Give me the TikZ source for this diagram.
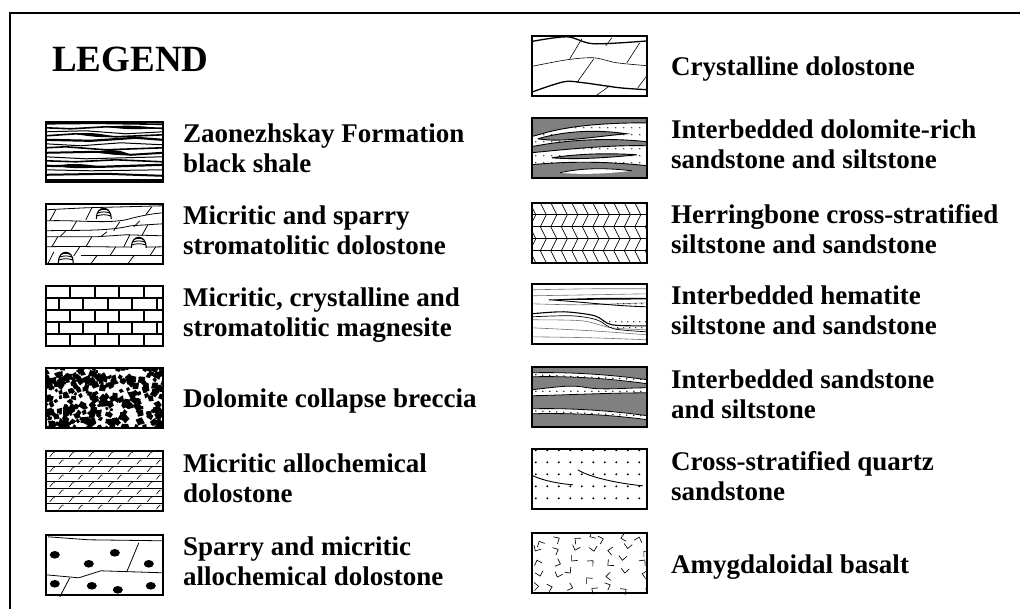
\documentclass[tikz,border=0pt]{standalone}
\usepackage{fontspec}
\setmainfont{Liberation Serif}
\newcommand\stromdome[2]{%
  \fill[white] (#1-7.5,#2) .. controls (#1-7.5,#2-14) and (#1+7.5,#2-14) .. (#1+7.5,#2) -- cycle;
  \draw[line width=1.1pt] (#1-7.5,#2) .. controls (#1-7.5,#2-14) and (#1+7.5,#2-14) .. (#1+7.5,#2);
  \draw[line width=0.9pt] (#1-7.2,#2-2.8) .. controls (#1-2,#2-4.5) and (#1+2,#2-4.5) .. (#1+7.2,#2-2.8);
  \draw[line width=0.9pt] (#1-6.5,#2-5.6) .. controls (#1-2,#2-7.3) and (#1+2,#2-7.3) .. (#1+6.5,#2-5.6);
  \draw[line width=0.9pt] (#1-5,#2-8.4) .. controls (#1-1.5,#2-9.8) and (#1+1.5,#2-9.8) .. (#1+5,#2-8.4);
}
\begin{document}
\begin{tikzpicture}[x=1pt,y=-1pt,
  swatchL/.style={draw, line width=1.2pt, minimum width=117pt, minimum height=60pt, inner sep=0pt, outer sep=0pt},
  swatchR/.style={draw, line width=1.2pt, minimum width=115pt, minimum height=60pt, inner sep=0pt, outer sep=0pt},
  holdL/.style={minimum width=117pt, minimum height=60pt, inner sep=0pt},
  holdR/.style={minimum width=115pt, minimum height=60pt, inner sep=0pt},
  lab/.style={anchor=base west, align=left, font=\fontsize{27}{30}\selectfont\bfseries, inner sep=0pt},
  thin/.style={line width=0.6pt}]
\useasboundingbox (0,0) rectangle (1020,609);
\fill[white] (0,0) rectangle (1020,609);
% frame
\draw[line width=1.6pt] (10,612) -- (10,13) -- (1022,13);
\node[anchor=base west, inner sep=0pt, font=\fontsize{37}{40}\selectfont\bfseries] (title) at (52,72) {LEGEND};

% ---------- swatch placeholders
\path (104.5,152) node[holdL] (a1) {};
\path (104.5,234) node[holdL] (a2) {};
\path (104.5,316) node[holdL] (a3) {};
\path (104.5,398) node[holdL] (a4) {};
\path (104.5,481) node[holdL] (a5) {};
\path (104.5,565) node[holdL] (a6) {};
\path (589.5,66) node[holdR] (b1) {};
\path (589.5,148) node[holdR] (b2) {};
\path (589.5,233) node[holdR] (b3) {};
\path (589.5,314) node[holdR] (b4) {};
\path (589.5,397) node[holdR] (b5) {};
\path (589.5,479) node[holdR] (b6) {};
\path (589.5,563) node[holdR] (b7) {};

% ---------- 1 black shale
\begin{scope}[shift={(a1.north west)}, line join=round]
\clip (0,0) rectangle (117,60);
\draw[line width=1.6pt] (0,2) -- (50,1.5) -- (117,2.5);
\draw[line width=1.6pt] (0,6) -- (25,7) -- (60,5) -- (117,6.5);
\draw[line width=1pt] (0,10) -- (40,9) -- (80,12) -- (117,10);
\draw[line width=1.6pt] (0,14) -- (30,12) -- (70,15) -- (117,13);
\draw[line width=2.2pt] (0,18) -- (45,19) -- (90,16) -- (117,18);
\draw[line width=1pt] (0,22) -- (35,24) -- (75,21) -- (117,23);
\draw[line width=1.6pt] (0,26) -- (20,25) -- (60,28) -- (117,26);
\draw[line width=2pt] (0,31) -- (50,30) -- (85,33) -- (117,31);
\draw[line width=1pt] (0,35) -- (40,37) -- (117,35);
\draw[line width=1.6pt] (0,39) -- (30,40) -- (70,38) -- (117,40);
\draw[line width=2.2pt] (0,44) -- (55,45) -- (117,43);
\draw[line width=1pt] (0,48) -- (45,49) -- (117,48);
\draw[line width=2pt] (0,53) -- (60,52) -- (117,54);
\draw[line width=2.5pt] (0,58) -- (117,58);
\fill (50,30) .. controls (65,27) and (75,28) .. (85,33) .. controls (70,34) and (60,32) .. (50,30);
\fill (10,44) .. controls (25,41) and (40,42) .. (55,45) .. controls (40,47) and (25,47) .. (10,44);
\fill (60,5) .. controls (80,3) and (95,4) .. (110,6) .. controls (95,8) and (80,8) .. (60,5);
\fill (30,12) .. controls (45,10) and (55,12) .. (70,15) .. controls (55,16) and (45,15) .. (30,12);
\end{scope}

% ---------- 2 stromatolitic dolostone
\begin{scope}[shift={(a2.north west)}, line width=0.8pt]
\clip (0,0) rectangle (117,60);
\draw (0,6) -- (40,4) -- (117,2);
\draw (0,17) .. controls (30,16) and (60,20) .. (80,16) .. controls (95,12) and (105,10) .. (117,9);
\draw (0,27) .. controls (30,26) and (60,28) .. (85,22) -- (117,20);
\draw (0,33) -- (50,33) -- (80,31) -- (117,32);
\draw (0,43) .. controls (40,42) and (70,44) .. (117,43);
\draw (35,52) -- (117,52);
\foreach \x/\ya/\yb in {4/6/17, 40/4/16, 100/3/11, 25/17/27, 68/18/27, 88/17/23, 14/27/33, 55/28/33, 96/21/32, 6/33/43, 40/33/43, 78/31/43, 28/43/52, 64/43/52, 104/43/52, 2/48/60, 45/52/60, 82/52/60}
  \draw (\x,\yb) -- (\x+6,\ya);
\stromdome{58}{15}
\stromdome{93}{44}
\stromdome{20}{59}
\end{scope}

% ---------- 3 magnesite bricks
\begin{scope}[shift={(a3.north west)}, line width=2.2pt]
\clip (0,0) rectangle (117,60);
\foreach \k in {1,...,4} \draw (0,\k*12) -- (117,\k*12);
\foreach \r in {0,2,4} \foreach \x in {24.5,49,73.5,98} \draw (\x,{\r*12}) -- (\x,{\r*12+12});
\foreach \r in {1,3} \foreach \x in {13,37.5,62,86.5,111} \draw (\x,{\r*12}) -- (\x,{\r*12+12});
\end{scope}

% ---------- 4 breccia
\begin{scope}[shift={(a4.north west)}]
\clip (0,0) rectangle (117,60);
\pgfmathsetseed{11}
\foreach \i in {1,...,300}{
  \pgfmathsetmacro\cx{rnd*121-2}
  \pgfmathsetmacro\cy{rnd*64-2}
  \pgfmathsetmacro\rr{2+rnd*3.2}
  \pgfmathsetmacro\aa{rnd*360}
  \pgfmathsetmacro\bb{70+rnd*50}
  \fill ({\cx+\rr*cos(\aa)},{\cy+\rr*sin(\aa)}) -- ({\cx+0.8*\rr*cos(\aa+\bb)},{\cy+0.8*\rr*sin(\aa+\bb)}) -- ({\cx+\rr*cos(\aa+190)},{\cy+\rr*sin(\aa+190)}) -- ({\cx+0.9*\rr*cos(\aa+280)},{\cy+0.9*\rr*sin(\aa+280)}) -- cycle;
}
\end{scope}

% ---------- 5 micritic allochemical dolostone
\begin{scope}[shift={(a5.north west)}, line width=0.6pt]
\clip (0,0) rectangle (117,60);
\foreach \k in {1,...,7} \draw (0,\k*7.5) -- (117,\k*7.5);
\foreach \k in {0,...,7} \foreach \m in {0,...,5} {
  \pgfmathsetmacro\tx{4+mod(\k,2)*9+\m*19.5}
  \draw (\tx,{\k*7.5+6}) -- ({\tx+3.5},{\k*7.5+1.8}) -- ({\tx+5},{\k*7.5+1.8});
}
\end{scope}

% ---------- 6 sparry micritic allochemical dolostone
\begin{scope}[shift={(a6.north west)}, line width=0.8pt]
\clip (0,0) rectangle (117,62);
\draw (2,2) -- (43,5) -- (117,6);
\draw (0,40) -- (33,43) -- (55,36) -- (117,38);
\draw (93,8) -- (81,37);
\draw (24,43) -- (14,62);
\foreach \x/\y in {9/20, 43/29, 69/18, 103/29, 9/49, 46/51, 72/55, 105/51}
  \fill (\x,\y) ellipse [x radius=5pt, y radius=3.8pt];
\end{scope}

% ---------- 7 crystalline dolostone
\begin{scope}[shift={(b1.north west)}]
\clip (0,0) rectangle (115,60);
\draw[line width=1.3pt] plot[smooth] coordinates {(-2,6) (35,1) (62,8) (117,5)};
\draw[thin] plot[smooth] coordinates {(-2,31) (35,24) (62,22) (85,27) (117,30)};
\draw[line width=1.3pt] plot[smooth] coordinates {(-2,57) (32,46) (52,47) (88,52) (117,54)};
\draw[thin] (50,3) -- (38,23);
\draw[thin] (80,2) -- (74,10);
\draw[thin] (108,7) -- (95,27);
\draw[thin] (62,23) -- (45,47);
\draw[thin] (78,50) -- (64,60);
\draw[thin] (115,40) -- (106,52);
\end{scope}

% ---------- 8 dolomite-rich sandstone/siltstone
\begin{scope}[shift={(b2.north west)}]
\clip (0,0) rectangle (115,60);
\foreach \yy in {3,10,...,59} \foreach \xx in {4,12,...,116} \fill (\xx,\yy) circle (0.7pt);
\begin{scope}[fill=black!50, draw=black, line width=0.9pt]
\filldraw (-1,-1) -- (116,-1) -- (116,5) .. controls (80,5) and (40,7) .. (10,16) -- (-1,19) -- cycle;
\filldraw (6,21) .. controls (30,14) and (60,11) .. (95,16) .. controls (60,19) and (30,25) .. (6,21);
\filldraw (-1,29) .. controls (30,23) and (70,19) .. (116,24) -- (116,28) .. controls (80,27) and (40,31) .. (-1,35) -- cycle;
\filldraw (20,40) .. controls (45,36) and (75,35) .. (105,37) .. controls (75,40) and (45,42) .. (20,40);
\filldraw (-1,47) .. controls (40,43) and (80,44) .. (116,48) -- (116,61) -- (-1,61) -- cycle;
\end{scope}
\fill[white] (28,55) .. controls (50,50) and (75,50) .. (100,53) .. controls (75,56) and (50,57) .. (28,55);
\draw[line width=0.8pt] (28,55) .. controls (50,50) and (75,50) .. (100,53);
\end{scope}

% ---------- 9 herringbone
\begin{scope}[shift={(b3.north west)}, line width=0.7pt]
\clip (0,0) rectangle (115,60);
\foreach \k in {1,...,4} \draw (0,\k*12) -- (115,\k*12);
\foreach \k in {0,2,4} \foreach \m in {0,...,11} \draw ({\m*10.5-2},{\k*12}) -- ({\m*10.5+4},{\k*12+12});
\foreach \k in {1,3} \foreach \m in {0,...,11} \draw ({\m*10.5+4},{\k*12}) -- ({\m*10.5-2},{\k*12+12});
\end{scope}

% ---------- 10 hematite siltstone/sandstone
\begin{scope}[shift={(b4.north west)}]
\clip (0,0) rectangle (115,60);
\begin{scope}[draw=black!55, line width=0.6pt]
\draw plot[smooth] coordinates {(0,6) (60,5) (115,5)};
\draw plot[smooth] coordinates {(0,12) (60,11) (115,10)};
\draw plot[smooth] coordinates {(0,20) (50,21) (115,19)};
\draw plot[smooth] coordinates {(0,36) (50,37) (80,44) (115,46)};
\draw plot[smooth] coordinates {(0,44) (60,47) (115,51)};
\draw plot[smooth] coordinates {(0,53) (60,54) (115,56)};
\end{scope}
\fill (17,16) .. controls (50,14) and (80,14) .. (115,14) -- (115,15.5) .. controls (80,16) and (50,16) .. (17,16);
\draw[line width=0.9pt] (17,16) .. controls (50,18) and (80,22) .. (115,23);
\draw[line width=1.1pt] plot[smooth] coordinates {(0,30) (32,28) (63,32) (80,41) (115,42)};
\draw[line width=0.7pt] plot[smooth] coordinates {(0,33) (40,32) (65,36) (82,45) (115,48)};
\foreach \xx in {86,92,...,114} \fill (\xx,20) circle (0.7pt);
\foreach \xx in {72,78,...,114} \fill (\xx,38) circle (0.7pt);
\foreach \xx in {86,92,...,114} \fill (\xx,44) circle (0.7pt);
\end{scope}

% ---------- 11 sandstone and siltstone
\begin{scope}[shift={(b5.north west)}]
\clip (0,0) rectangle (115,60);
\fill[black!50] (0,0) rectangle (115,60);
\filldraw[fill=white, draw=black, line width=0.8pt] (-1,6) .. controls (40,5) and (80,8) .. (116,13) -- (116,17) .. controls (80,12) and (40,9) .. (-1,10) -- cycle;
\filldraw[fill=white, draw=black, line width=0.8pt] (-1,23) .. controls (20,21) and (35,18) .. (50,20) .. controls (70,24) and (90,21) .. (116,21) -- (116,26) .. controls (80,26) and (40,28) .. (-1,29) -- cycle;
\filldraw[fill=white, draw=black, line width=0.8pt] (-1,42) .. controls (40,41) and (80,44) .. (116,49) -- (116,53) .. controls (80,48) and (40,46) .. (-1,47) -- cycle;
\foreach \xx in {4,11,...,112} {
  \fill (\xx,{7.8+0.045*\xx}) circle (0.75pt);
  \fill (\xx,{24.5}) circle (0.75pt);
  \fill (\xx,{44+0.045*\xx}) circle (0.75pt);
}
\draw[line width=1pt] (0,0.8) -- (40,0.8);
\end{scope}

% ---------- 12 cross-stratified quartz sandstone
\begin{scope}[shift={(b6.north west)}]
\clip (0,0) rectangle (115,61);
\foreach \yy in {1.5,13.5,25.5,37.5,49.5} \foreach \xx in {4,15.5,27,38.5,50,61.5,73,84.5,96,107.5} \fill (\xx,\yy) circle (1.1pt);
\draw[line width=0.9pt] (1,27) .. controls (12,32) and (28,35) .. (41,36);
\draw[line width=0.9pt] (46,21) .. controls (55,27) and (80,34) .. (111,37);
\end{scope}

% ---------- 13 amygdaloidal basalt
\begin{scope}[shift={(b7.north west)}, line width=0.65pt]
\clip (0,0) rectangle (115,62);
\pgfmathsetseed{5}
\foreach \i in {0,...,6} \foreach \j in {0,...,4} {
  \pgfmathsetmacro\cx{\i*17+3+rnd*9}
  \pgfmathsetmacro\cy{\j*12+3+rnd*6}
  \pgfmathsetmacro\aa{rnd*360}
  \draw ({\cx+6*cos(\aa)},{\cy+6*sin(\aa)}) -- (\cx,\cy) -- ({\cx+6*cos(\aa+85)},{\cy+6*sin(\aa+85)});
}
\end{scope}

% ---------- swatch frames
\node[swatchL] (s1) at (a1) {};
\node[swatchL] (s2) at (a2) {};
\node[swatchL] (s3) at (a3) {};
\node[swatchL] (s4) at (a4) {};
\node[swatchL] (s5) at (a5) {};
\node[swatchL] (s6) at (a6) {};
\node[swatchR] (r1) at (b1) {};
\node[swatchR] (r2) at (b2) {};
\node[swatchR] (r3) at (b3) {};
\node[swatchR] (r4) at (b4) {};
\node[swatchR] (r5) at (b5) {};
\node[swatchR] (r6) at (b6) {};
\node[swatchR] (r7) at (b7) {};

% ---------- labels (base anchor = baseline of last line)
\node[lab] (t1) at (183,173) {Zaonezhskay Formation\\black shale};
\node[lab] (t2) at (183,255) {Micritic and sparry\\stromatolitic dolostone};
\node[lab] (t3) at (183,337) {Micritic, crystalline and\\stromatolitic magnesite};
\node[lab] (t4) at (183,408) {Dolomite collapse breccia};
\node[lab] (t5) at (183,502) {Micritic allochemical\\dolostone};
\node[lab] (t6) at (183,585) {Sparry and micritic\\allochemical dolostone};
\node[lab] (u1) at (671,76) {Crystalline dolostone};
\node[lab] (u2) at (671,169) {Interbedded dolomite-rich\\sandstone and siltstone};
\node[lab] (u3) at (671,254) {Herringbone cross-stratified\\siltstone and sandstone};
\node[lab] (u4) at (671,335) {Interbedded hematite\\siltstone and sandstone};
\node[lab] (u5) at (671,418) {Interbedded sandstone\\and siltstone};
\node[lab] (u6) at (671,500) {Cross-stratified quartz\\sandstone};
\node[lab] (u7) at (671,573) {Amygdaloidal basalt};
\end{tikzpicture}
\end{document}
